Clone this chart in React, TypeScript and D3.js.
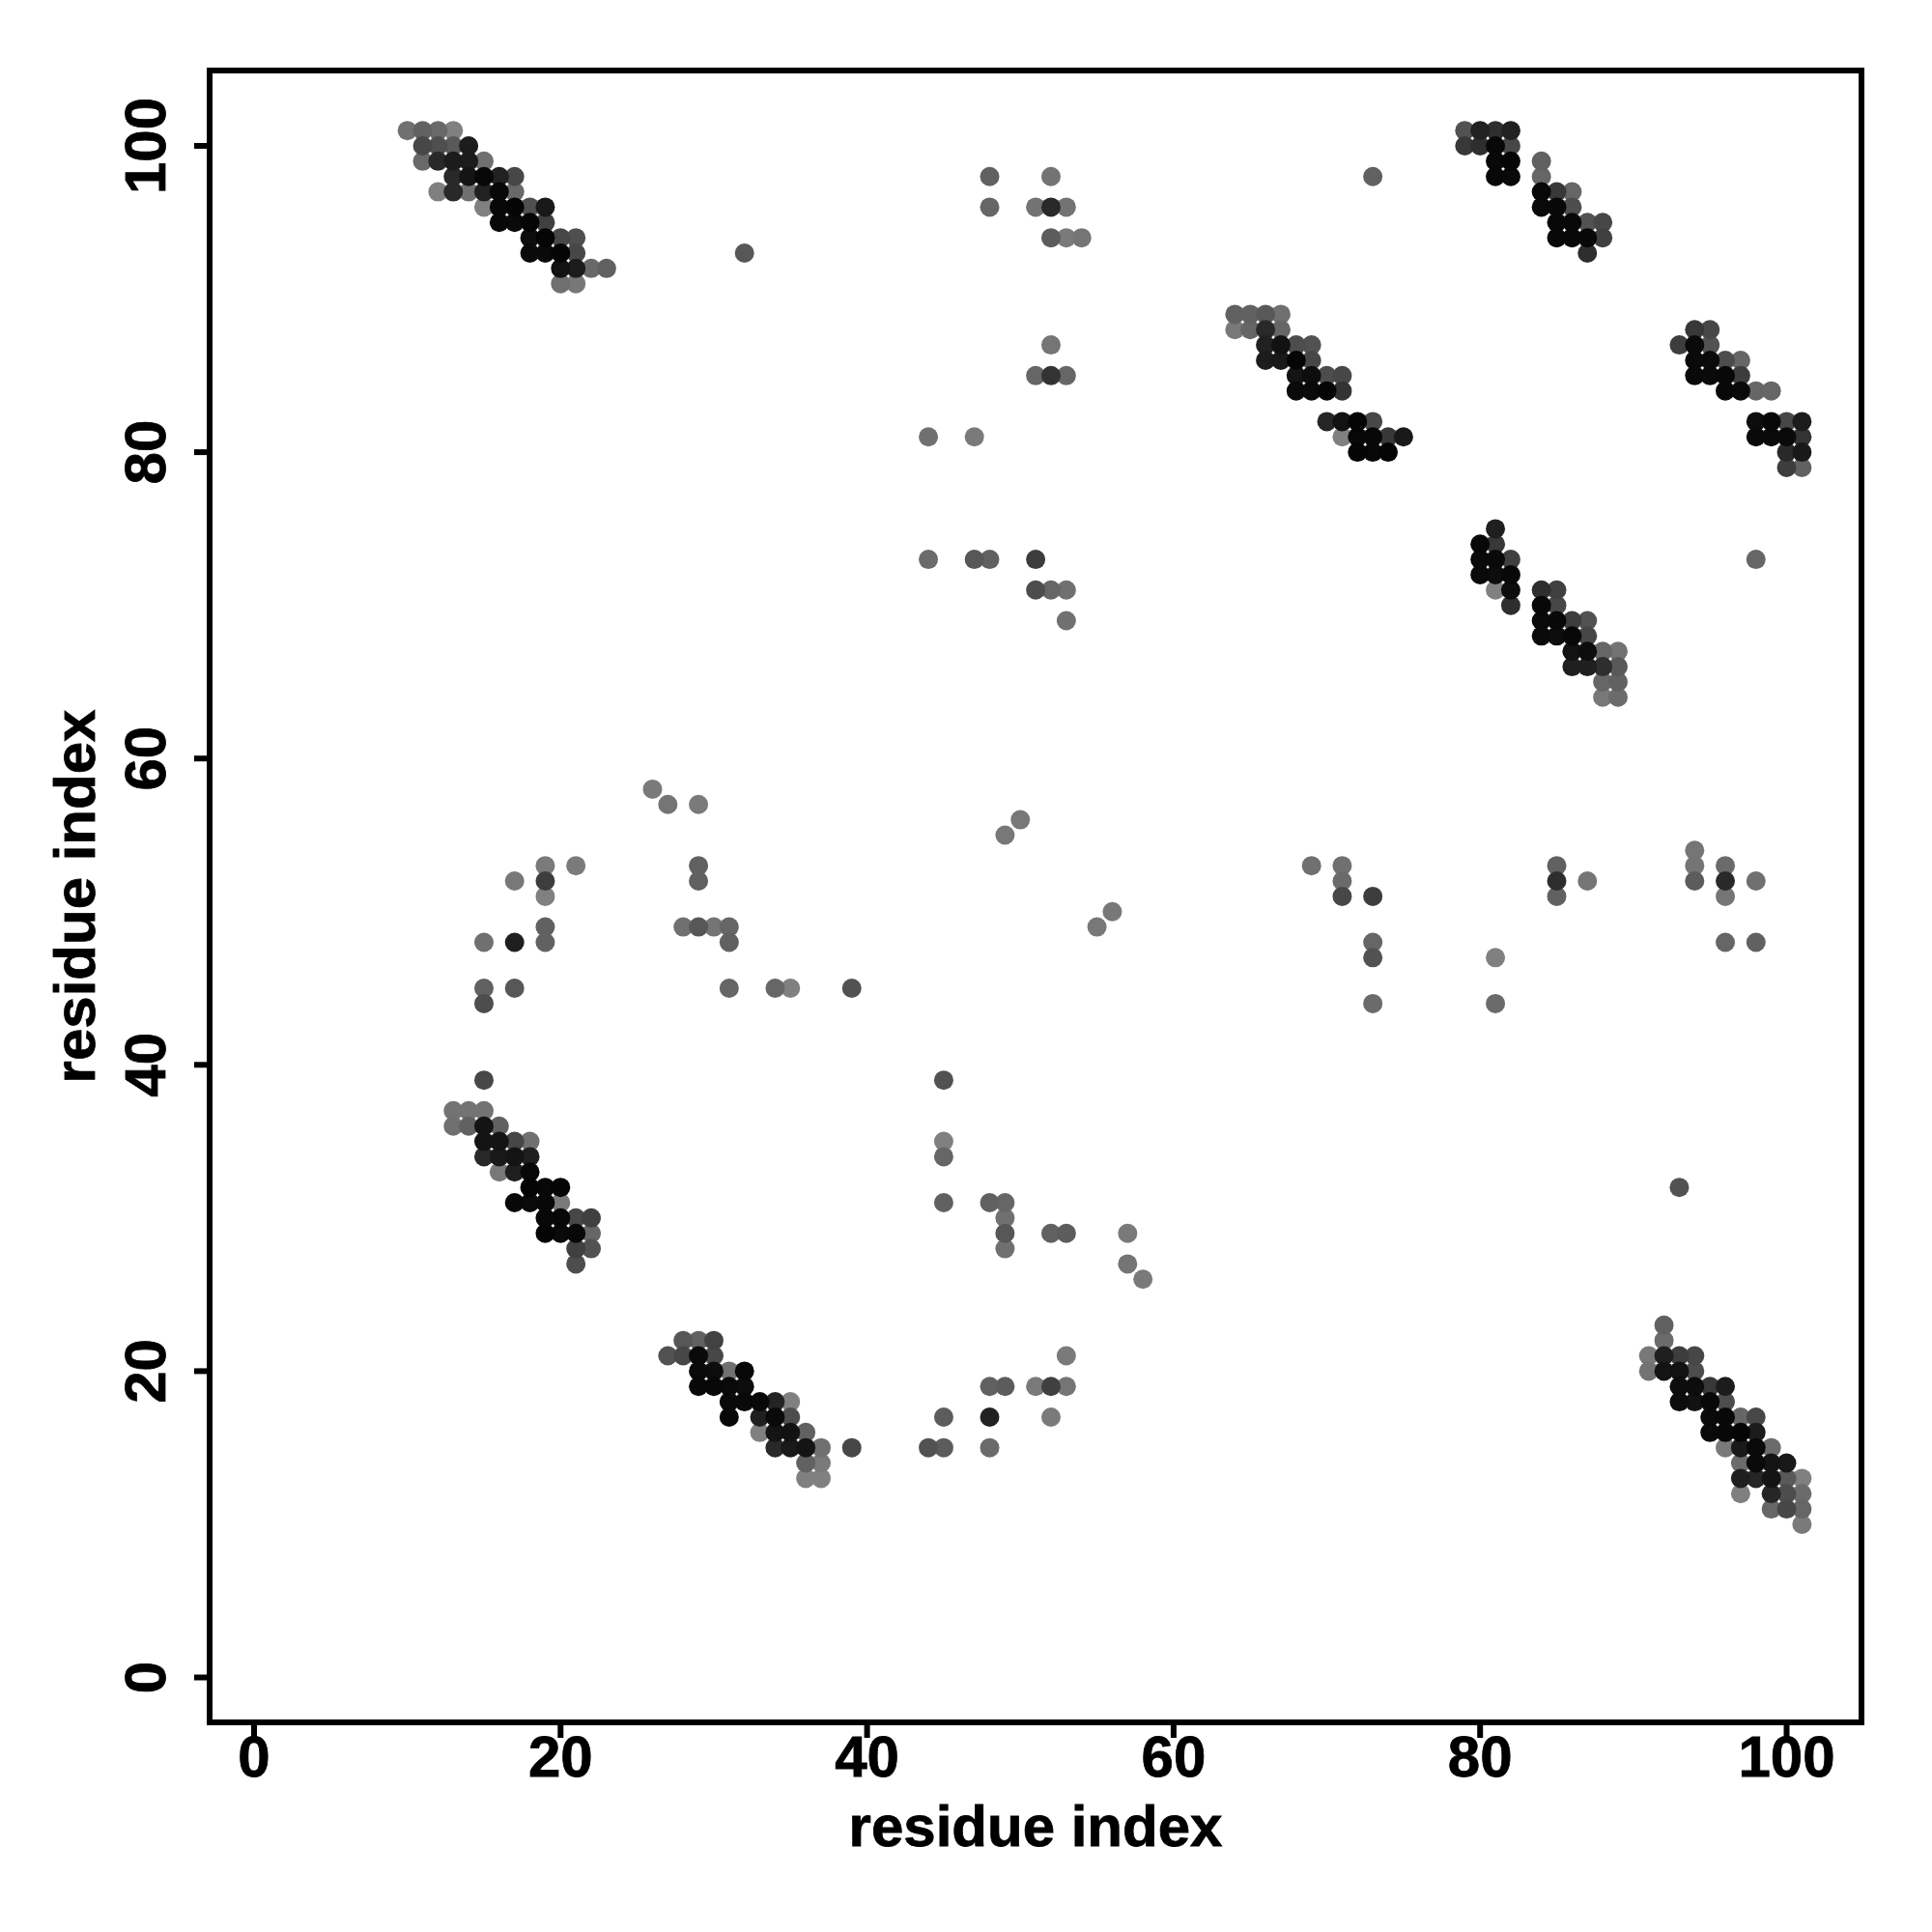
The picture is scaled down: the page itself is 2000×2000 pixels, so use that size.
import React from "react";
import * as d3 from "d3";

// Each contact: [residue i, residue j, strength 0-100]
const bandA = [
  [10,101,56],[11,101,62],[12,101,59],[13,101,50],
  [11,100,72],[12,100,69],[13,100,65],[14,100,89],
  [11,99,59],[12,99,84],[13,99,89],[14,99,89],[15,99,56],
  [13,98,84],[14,98,92],[15,98,97],[16,98,87],[17,98,72],
  [12,97,50],[13,97,84],[14,97,56],[15,97,87],[16,97,97],[17,97,59],
  [15,96,50],[16,96,97],[17,96,98],[18,96,69],[19,96,90],
  [16,95,97],[17,95,96],[18,95,98],[19,95,75],
  [18,94,95],[19,94,98],[20,94,72],[21,94,69],
  [18,93,96],[19,93,96],[20,93,98],[21,93,72],
  [20,92,93],[21,92,89],[22,92,59],[23,92,62],
  [20,91,56],[21,91,53],
];
const bandB = [
  [79,101,68],[80,101,87],[81,101,82],[82,101,87],
  [79,100,78],[80,100,82],[81,100,97],[82,100,72],
  [81,99,97],[82,99,98],[84,99,62],
  [81,98,97],[82,98,96],[84,98,60],
  [84,97,97],[85,97,78],[86,97,60],
  [84,96,96],[85,96,97],[86,96,70],
  [85,95,97],[86,95,97],[87,95,68],[88,95,72],
  [85,94,97],[86,94,97],[87,94,97],[88,94,75],
  [87,93,82],
];
const bandC = [
  [64,89,62],[65,89,62],[66,89,65],[67,89,56],
  [64,88,53],[65,88,60],[66,88,84],[67,88,60],
  [66,87,87],[67,87,93],[68,87,70],[69,87,68],
  [66,86,89],[67,86,90],[68,86,98],[69,86,72],
  [68,85,92],[69,85,95],[70,85,70],[71,85,72],
  [68,84,96],[69,84,96],[70,84,98],[71,84,80],
  [70,82,85],[71,82,93],[72,82,98],[73,82,72],
  [71,81,50],[72,81,97],[73,81,97],[74,81,78],[75,81,90],
  [72,80,98],[73,80,97],[74,80,98],
];
const bandD = [
  [94,88,78],[95,88,72],
  [93,87,76],[94,87,96],[95,87,68],
  [94,86,96],[95,86,96],[96,86,70],[97,86,60],
  [94,85,96],[95,85,96],[96,85,97],[97,85,76],
  [96,84,97],[97,84,96],[98,84,60],[99,84,60],
  [98,82,95],[99,82,97],[100,82,72],[101,82,89],
  [98,81,96],[99,81,96],[100,81,96],[101,81,80],
  [100,80,84],[101,80,90],
  [100,79,76],[101,79,62],
];
const bandE = [
  [81,75,88],
  [80,74,97],[81,74,78],
  [80,73,96],[81,73,96],[82,73,75],
  [80,72,96],[81,72,95],[82,72,97],
  [81,71,50],[82,71,95],[84,71,82],[85,71,75],
  [82,70,82],[84,70,97],[85,70,72],
  [84,69,96],[85,69,97],[86,69,76],[87,69,68],
  [84,68,96],[85,68,95],[86,68,97],[87,68,72],
  [86,67,93],[87,67,95],[88,67,60],[89,67,55],
  [86,66,88],[87,66,88],[88,66,82],[89,66,65],
  [88,65,60],[89,65,62],
  [88,64,53],[89,64,58],
];
const bandF = [
  [13,37,55],[14,37,55],[15,37,55],
  [13,36,56],[14,36,62],[15,36,92],[16,36,62],
  [15,35,92],[16,35,92],[17,35,72],[18,35,56],
  [15,34,84],[16,34,90],[17,34,92],[18,34,88],
  [16,33,53],[17,33,88],[18,33,97],
  [18,32,98],[19,32,97],[20,32,98],
  [17,31,97],[18,31,96],[19,31,97],[20,31,52],
  [19,30,97],[20,30,97],[21,30,72],[22,30,75],
  [19,29,98],[20,29,96],[21,29,97],[22,29,60],
  [21,28,75],[22,28,68],
  [21,27,70],
];
const bandG = [
  [28,22,66],[29,22,62],[30,22,74],
  [27,21,68],[28,21,72],[29,21,96],[30,21,72],
  [29,20,96],[30,20,95],[31,20,56],[32,20,97],
  [29,19,97],[30,19,97],[31,19,96],[32,19,95],
  [31,18,96],[32,18,96],[33,18,97],[34,18,86],[35,18,50],
  [31,17,97],[33,17,88],[34,17,96],[35,17,70],
  [33,16,50],[34,16,92],[35,16,93],[36,16,62],
  [34,15,84],[35,15,90],[36,15,92],[37,15,56],[39,15,72],
  [36,14,62],[37,14,52],
  [36,13,50],[37,13,50],
];
const bandH = [
  [92,23,62],
  [92,22,58],
  [91,21,53],[92,21,88],[93,21,76],[94,21,72],
  [91,20,55],[92,20,92],[93,20,93],[94,20,70],
  [93,19,95],[94,19,95],[95,19,78],[96,19,89],
  [93,18,95],[94,18,93],[95,18,97],[96,18,70],
  [95,17,96],[96,17,97],[97,17,60],[98,17,72],
  [95,16,96],[96,16,97],[97,16,98],[98,16,89],
  [96,15,52],[97,15,90],[98,15,96],[99,15,58],
  [97,14,58],[98,14,96],[99,14,92],[100,14,90],
  [97,13,88],[98,13,85],[99,13,92],[100,13,65],[101,13,50],
  [97,12,50],[99,12,85],[100,12,70],[101,12,58],
  [99,11,60],[100,11,72],[101,11,60],
  [101,10,52],
];
const sparseTop = [
  [48,98,62],[52,98,55],[73,98,62],
  [48,96,60],[51,96,55],[52,96,84],[53,96,55],
  [52,94,64],[53,94,52],[54,94,54],
  [32,93,66],
  [52,87,54],
  [51,85,60],[52,85,80],[53,85,60],
  [44,81,56],[47,81,52],
  [44,73,58],[47,73,66],[48,73,62],[51,73,76],[98,73,60],
  [51,71,70],[52,71,60],[53,71,56],
  [53,69,56],
];
const sparseMiddle = [
  [26,58,52],
  [27,57,54],[29,57,52],
  [50,56,53],[49,55,53],
  [94,54,54],
  [19,53,52],[21,53,52],[29,53,62],[69,53,56],[71,53,56],[85,53,62],[94,53,54],[96,53,58],
  [17,52,53],[19,52,76],[29,52,62],[71,52,58],[85,52,82],[87,52,54],[94,52,64],[96,52,84],[98,52,56],
  [19,51,50],[71,51,72],[73,51,76],[85,51,62],[96,51,54],
  [56,50,53],
  [19,49,62],[28,49,56],[29,49,66],[30,49,54],[31,49,60],[55,49,53],
  [15,48,56],[17,48,88],[19,48,62],[31,48,62],[73,48,60],[96,48,60],[98,48,62],
  [73,47,68],[81,47,50],
  [15,45,62],[17,45,66],[31,45,60],[34,45,60],[35,45,50],[39,45,68],
  [15,44,70],[73,44,58],[81,44,58],
];
const sparseBottom = [
  [15,39,72],[45,39,68],
  [45,35,50],
  [45,34,60],
  [93,32,68],
  [45,31,62],[48,31,62],[49,31,60],
  [49,30,56],
  [49,29,66],[52,29,62],[53,29,64],[57,29,52],
  [49,28,56],
  [57,27,54],
  [58,26,52],
  [53,21,52],
  [48,19,62],[49,19,64],[51,19,52],[52,19,75],[53,19,54],
  [45,17,64],[48,17,87],[52,17,52],
  [44,15,68],[45,15,64],[48,15,58],
];

const xTicks = [0, 20, 40, 60, 80, 100];
const yTicks = [0, 20, 40, 60, 80, 100];
const axisTitle = "residue index";

const contacts = [
  ...bandA, ...bandB, ...bandC, ...bandD, ...bandE, ...bandF, ...bandG, ...bandH,
  ...sparseTop, ...sparseMiddle, ...sparseBottom,
].slice().sort((a, b) => a[2] - b[2]);

const frame = { left: 217, right: 1927, top: 73, bottom: 1783 };
const x = d3.scaleLinear().domain([0, 100]).range([263, 1849.5]);
const y = d3.scaleLinear().domain([0, 100]).range([1736.5, 151]);
const shade = (s: number) => {
  const g = Math.round(255 * (1 - s / 100));
  return d3.rgb(g, g, g).formatHex();
};
const font = "'Liberation Sans', Arial, sans-serif";
const tickLen = 16;
const stroke = 6;

export default function App() {
  return (
    <svg
      width={2000}
      height={2000}
      viewBox="0 0 2000 2000"
      style={{ position: "absolute", left: 0, top: 0, background: "#fff" }}
      fontFamily={font}
      fontWeight="bold"
    >
      <g>
        {contacts.map(([i, j, s], k) => (
          <circle key={k} cx={x(i)} cy={y(j)} r={10} fill={shade(s)} />
        ))}
      </g>
      <rect
        x={frame.left}
        y={frame.top}
        width={frame.right - frame.left}
        height={frame.bottom - frame.top}
        fill="none"
        stroke="#000"
        strokeWidth={stroke}
      />
      <g stroke="#000" strokeWidth={0.8}>
        {xTicks.map((t) => (
          <g key={t}>
            <line x1={x(t)} x2={x(t)} y1={frame.bottom} y2={frame.bottom + tickLen} strokeWidth={stroke} />
            <text x={x(t)} y={1839} textAnchor="middle" fontSize={60}>{t}</text>
          </g>
        ))}
        {yTicks.map((t) => (
          <g key={t}>
            <line x1={frame.left} x2={frame.left - tickLen} y1={y(t)} y2={y(t)} strokeWidth={stroke} />
            <text transform={`translate(171,${y(t)}) rotate(-90)`} textAnchor="middle" fontSize={60}>{t}</text>
          </g>
        ))}
        <text x={(frame.left + frame.right) / 2} y={1911} textAnchor="middle" fontSize={60}>{axisTitle}</text>
        <text transform={`translate(98,${(frame.top + frame.bottom) / 2}) rotate(-90)`} textAnchor="middle" fontSize={60}>{axisTitle}</text>
      </g>
    </svg>
  );
}
